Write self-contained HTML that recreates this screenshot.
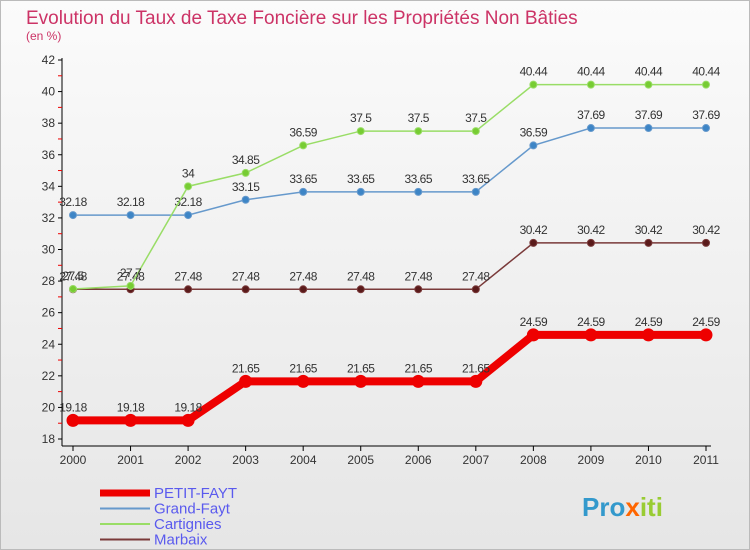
<!DOCTYPE html>
<html><head><meta charset="utf-8"><style>
body{margin:0;width:750px;height:550px;overflow:hidden;font-family:"Liberation Sans",sans-serif}
#wrap{position:absolute;left:0;top:0;width:748px;height:548px;border:1px solid #bbb;background:linear-gradient(#fbfbfb,#e6e6e6)}
</style></head><body>
<div id="wrap">
<svg id="chart" width="750" height="550" style="position:absolute;left:-1px;top:-1px">
<text x="26" y="24" font-size="19" fill="#cc3366">Evolution du Taux de Taxe Foncière sur les Propriétés Non Bâties</text>
<text x="26" y="40" font-size="12" fill="#cc3366">(en %)</text>
<g id="axes"></g><g id="series"></g><g id="legend"></g>
<text x="582" y="516" font-size="26" font-weight="bold" fill="#3399cc">Pro<tspan fill="#ff6600">x</tspan><tspan fill="#99cc33">iti</tspan></text>
</svg></div>
<script>
const years=["2000","2001","2002","2003","2004","2005","2006","2007","2008","2009","2010","2011"];
const yTicks=[18,20,22,24,26,28,30,32,34,36,38,40,42];
const petit=[19.18,19.18,19.18,21.65,21.65,21.65,21.65,21.65,24.59,24.59,24.59,24.59];
const grand=[32.18,32.18,32.18,33.15,33.65,33.65,33.65,33.65,36.59,37.69,37.69,37.69];
const cart=[27.5,27.7,34,34.85,36.59,37.5,37.5,37.5,40.44,40.44,40.44,40.44];
const marb=[27.48,27.48,27.48,27.48,27.48,27.48,27.48,27.48,30.42,30.42,30.42,30.42];
const NS="http://www.w3.org/2000/svg";
const X=i=>73+i*(706-73)/11;
const Y=v=>439-(v-18)*(379/24);
function mk(t,a,p){const e=document.createElementNS(NS,t);for(const k in a)e.setAttribute(k,a[k]);p.appendChild(e);return e;}
const ax=document.getElementById('axes');
let l=mk('line',{x1:62,y1:58,x2:62,y2:446,stroke:'#000'},ax);


l=mk('line',{x1:62,y1:446,x2:711,y2:446,stroke:'#000'},ax);


yTicks.forEach(v=>{mk('line',{x1:58,y1:Y(v),x2:62,y2:Y(v),stroke:'#000'},ax);
if(v<42)mk('line',{x1:58,y1:Y(v+1),x2:62,y2:Y(v+1),stroke:'#e00'},ax);
const t=mk('text',{x:55,y:Y(v)+4,'text-anchor':'end','font-size':12,fill:'#333'},ax);t.textContent=v;

});
years.forEach((y,i)=>{mk('line',{x1:X(i),y1:446,x2:X(i),y2:451,stroke:'#000'},ax);
const t=mk('text',{x:X(i),y:464,'text-anchor':'middle','font-size':12,fill:'#333'},ax);t.textContent=y;

});
const sg=document.getElementById('series');
function draw(vals,color,dot,w,r,name){const g=mk('g',{},sg);


mk('polyline',{points:vals.map((v,i)=>X(i)+','+Y(v)).join(' '),fill:'none',stroke:color,'stroke-width':w},g);
vals.forEach((v,i)=>{const c=mk('circle',{cx:X(i),cy:Y(v),r:r,fill:dot,stroke:color,'stroke-width':1},g);


const t=mk('text',{x:X(i),y:Y(v)-9,'text-anchor':'middle','font-size':12,fill:'#333','letter-spacing':'-0.5'},g);t.textContent=v;

});}
draw(marb,'#7a3a3a','#5a1a1a',1.5,3.5,'series-marbaix');
draw(grand,'#6699cc','#3d85c6',1.5,3.5,'series-grand-fayt');
draw(cart,'#99dd66','#77cc33',1.5,3.5,'series-cartignies');
draw(petit,'#ee0000','#ee0000',8,6,'series-petit-fayt');
const lg=document.getElementById('legend');
[["PETIT-FAYT","#ee0000",7],["Grand-Fayt","#6699cc",2],["Cartignies","#99dd66",2],["Marbaix","#7a3a3a",2]].forEach((s,i)=>{
const y=493+i*15.5;const g=mk('g',{},lg);


mk('line',{x1:100,y1:y,x2:150,y2:y,stroke:s[1],'stroke-width':s[2]},g);
const t=mk('text',{x:154,y:y+5,'font-size':15,fill:'#5a5aee'},g);t.textContent=s[0];});
</script></body></html>
